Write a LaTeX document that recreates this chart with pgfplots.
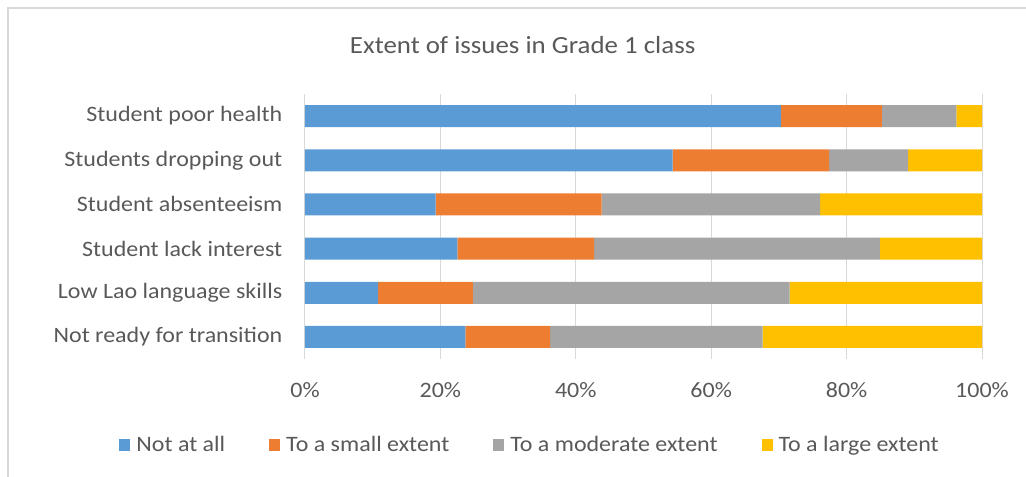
\documentclass[border=0pt]{standalone}
\usepackage{pgfplots}
\pgfplotsset{compat=1.18}
\usepackage{fontspec}
\setmainfont{Carlito}[FakeStretch=1.09]
\definecolor{cblue}{HTML}{5B9BD5}
\definecolor{corange}{HTML}{ED7D31}
\definecolor{cgray}{HTML}{A5A5A5}
\definecolor{cyellow}{HTML}{FFC000}
\definecolor{ctext}{HTML}{595959}
\definecolor{cgrid}{HTML}{D9D9D9}
\begin{document}
\begin{tikzpicture}
\useasboundingbox (0,0) rectangle (769.5pt,-357.75pt);
\draw[cgrid, line width=1.5pt] (6pt,-357.75pt) -- (6pt,-6pt) -- (769.5pt,-6pt);
\node[text=ctext, font=\fontsize{18.5}{22}\selectfont, anchor=base] at (392pt,-40.5pt) {Extent of issues in Grade 1 class};
\begin{axis}[
  at={(228.75pt,-269.25pt)}, anchor=south west,
  scale only axis, width=507.75pt, height=198.75pt,
  xbar stacked, bar width=16.5pt,
  xmin=0, xmax=100, ymin=-0.5, ymax=5.5,
  xtick={0,20,40,60,80,100},
  xticklabels={0\%,20\%,40\%,60\%,80\%,100\%},
  ytick={0,1,2,3,4,5},
  yticklabels={Not ready for transition,Low Lao language skills,Student lack interest,Student absenteeism,Students dropping out,Student poor health},
  xmajorgrids, grid style={cgrid, line width=0.75pt},
  axis line style={draw=none},
  major tick length=0pt,
  tick label style={text=ctext, font=\fontsize{16.5}{19}\selectfont},
  xticklabel style={yshift=-14pt},
  yticklabel style={xshift=-13.5pt},
  legend columns=4,
  legend style={draw=none, at={(0.333,-0.325)}, anchor=center, font=\fontsize{16.5}{19}\selectfont, text=ctext,
    /tikz/every odd column/.append style={column sep=2.5pt},
    /tikz/every even column/.append style={column sep=31pt}},
  legend image code/.code={\fill[#1] (0pt,-4.5pt) rectangle (8.25pt,4.5pt);},
]
\addplot[fill=cblue, draw=none] coordinates {(23.7,0) (10.8,1) (22.5,2) (19.3,3) (54.3,4) (70.3,5)};
\addplot[fill=corange, draw=none] coordinates {(12.5,0) (14.0,1) (20.2,2) (24.5,3) (23.1,4) (14.9,5)};
\addplot[fill=cgray, draw=none] coordinates {(31.4,0) (46.8,1) (42.2,2) (32.3,3) (11.7,4) (11.0,5)};
\addplot[fill=cyellow, draw=none] coordinates {(32.4,0) (28.4,1) (15.1,2) (23.9,3) (10.9,4) (3.8,5)};
\legend{Not at all,To a small extent,To a moderate extent,To a large extent}
\end{axis}
\end{tikzpicture}
\end{document}
